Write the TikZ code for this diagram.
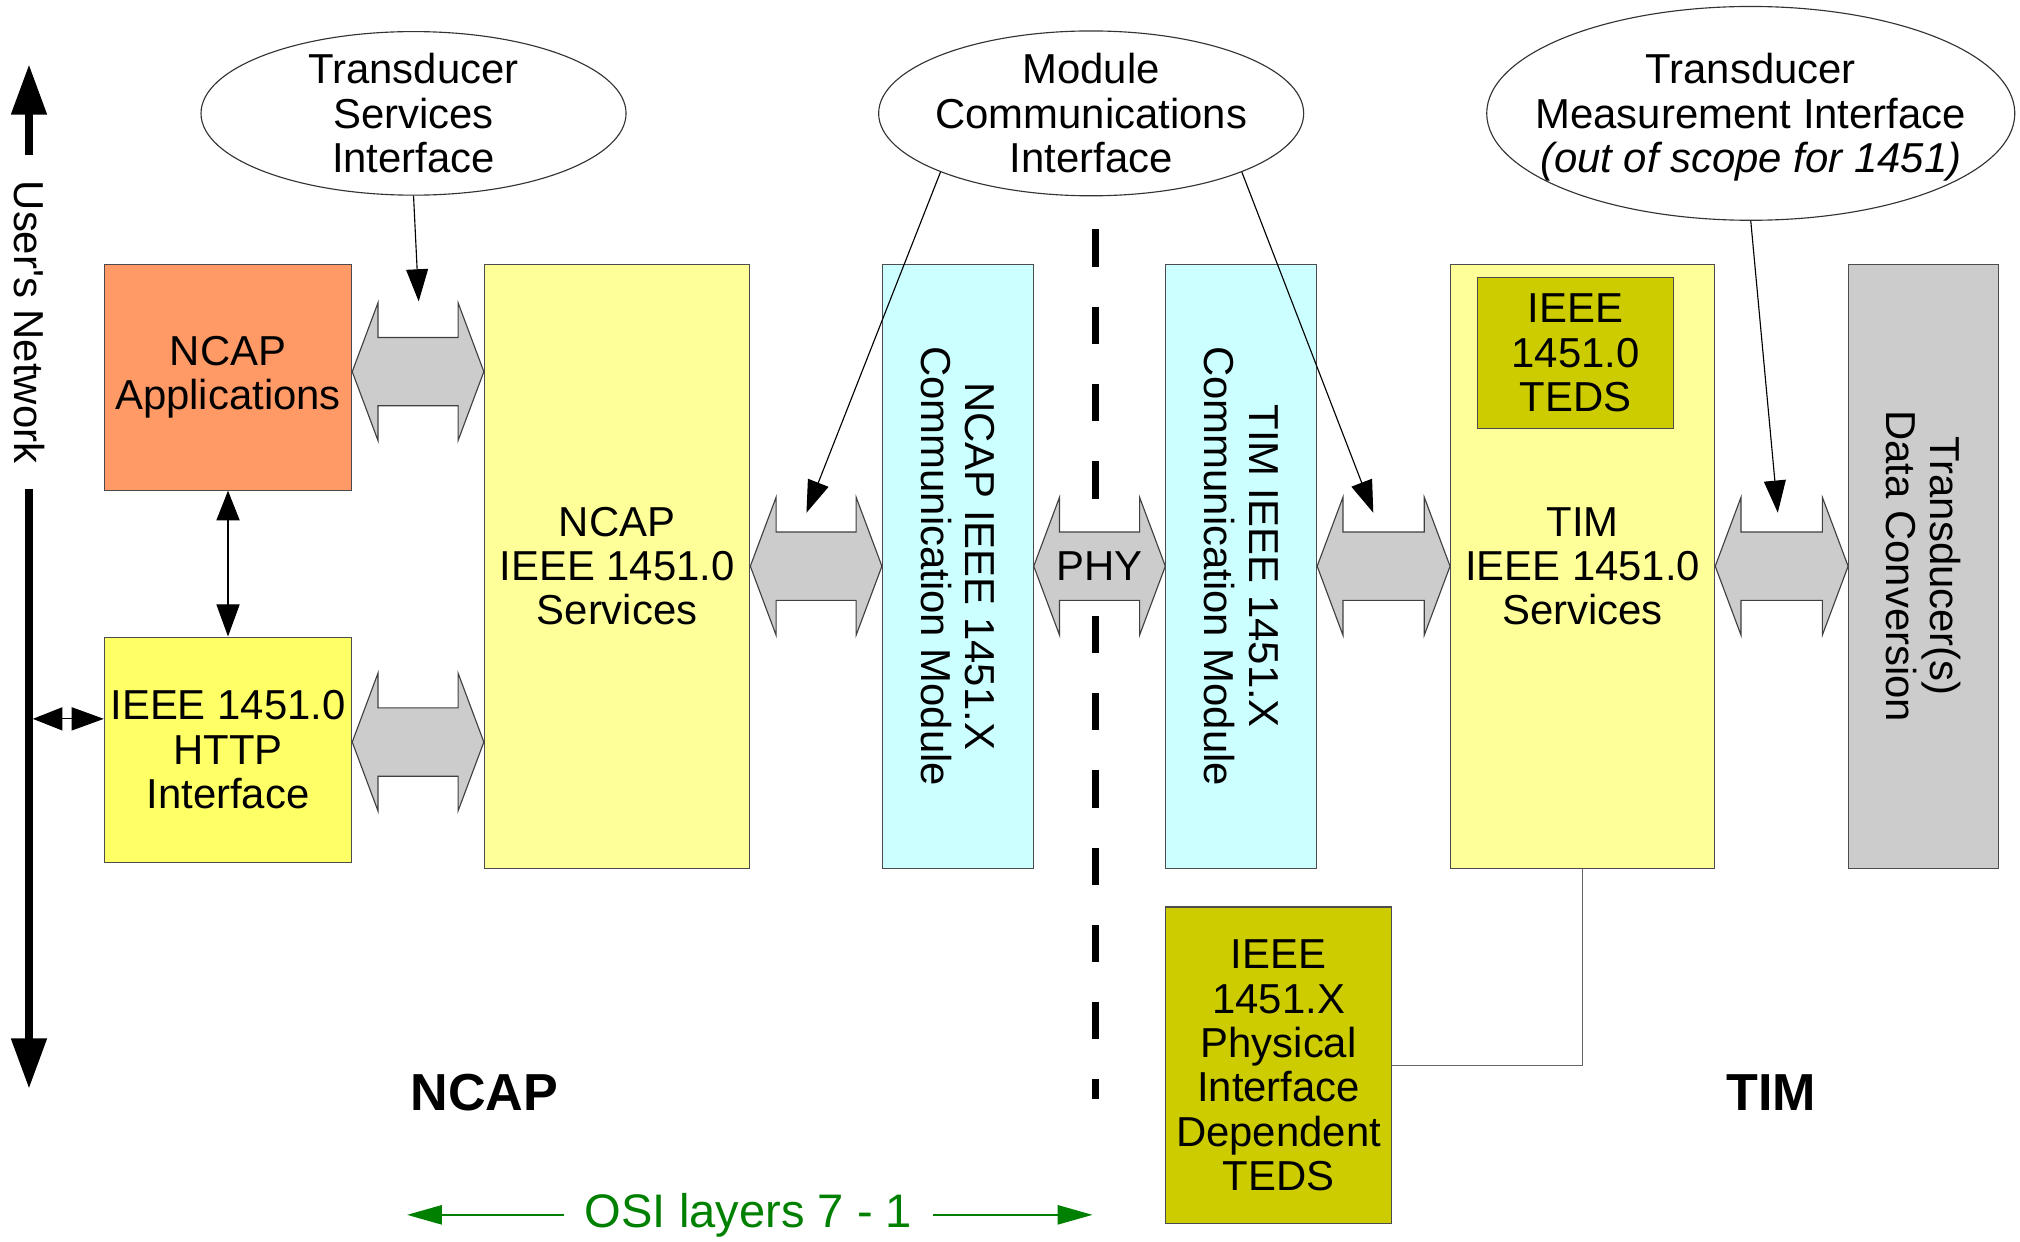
\documentclass[tikz,border=0pt]{standalone}
\usepackage{fontspec}
\setmainfont{Liberation Sans}
\usepackage{tikz}
\usetikzlibrary{arrows.meta}
\usetikzlibrary{shapes.geometric}
\usetikzlibrary{calc}
\definecolor{appsorange}{HTML}{FF9966}
\definecolor{httpyellow}{HTML}{FFFF66}
\definecolor{svcyellow}{HTML}{FFFF99}
\definecolor{comcyan}{HTML}{CCFFFF}
\definecolor{tedsolive}{HTML}{CCCC00}
\definecolor{xdcrgray}{HTML}{CCCCCC}
\definecolor{osigreen}{HTML}{008000}
\tikzset{t/.style={font=\fontsize{18.5}{19.6}\selectfont}}
\tikzset{big/.style={font=\fontsize{23}{26}\selectfont\bfseries}}
\tikzset{blk/.style={draw=black!70, line width=0.5pt, inner sep=0pt, align=center, t}}
\tikzset{bubble/.style={draw=black!80, line width=0.5pt, ellipse, fill=white}}
\tikzset{btxt/.style={t, align=center}}
\tikzset{vtxt/.style={rotate=-90, align=center, t}}
\tikzset{ptr/.style={-{Triangle[length=0.5cm,width=0.34cm]}, line width=0.5pt}}
\tikzset{dptr/.style={{Triangle[length=0.46cm,width=0.36cm]}-{Triangle[length=0.5cm,width=0.36cm]}, line width=0.5pt}}
\tikzset{fat/.style={draw=black!75, fill=xdcrgray, line width=0.5pt}}
\tikzset{wire/.style={draw=black!60, line width=0.5pt}}
\tikzset{cutline/.style={line width=3.1pt, dash pattern=on 0.58cm off 0.62cm}}
\tikzset{netline/.style={line width=3.4pt, {Triangle[length=0.78cm,width=0.53cm]}-{Triangle[length=0.78cm,width=0.53cm]}}}
\tikzset{osi/.style={font=\fontsize{20.8}{24}\selectfont, text=osigreen}}
\tikzset{osiarr/.style={draw=osigreen, line width=0.6pt, -{Triangle[length=0.54cm,width=0.3cm]}}}

% block arrow between two boxes, optional shift up
\newcommand{\fatarrow}[3][0cm]{%
  \path ([yshift=#1]#2.east) coordinate (fa-l) (fa-l -| #3.west) coordinate (fa-r);
  \draw[fat] (fa-l) -- ++(20,-53.5) -- ++(0,27) -- ($(fa-r)+(-20,-26.5)$) -- ++(0,-27) -- (fa-r)
    -- ++(-20,53.5) -- ++(0,-27) -- ($(fa-l)+(20,26.5)$) -- ++(0,27) -- cycle;}

\begin{document}
\begin{tikzpicture}[x=0.02cm, y=-0.02cm]
  \useasboundingbox (0,0) rectangle (1568,964);

  % interface bubbles
  \node[bubble, minimum width=6.6cm, minimum height=2.54cm,
    label={[btxt]center:{Transducer\\Services\\Interface}}] (tsi) at (321,88) {};
  \node[bubble, minimum width=6.6cm, minimum height=2.56cm,
    label={[btxt]center:{Module\\Communications\\Interface}}] (mci) at (847,88) {};
  \node[bubble, minimum width=8.2cm, minimum height=3.32cm,
    label={[btxt, yshift=-0.06cm]center:{Transducer\\Measurement Interface\\\textit{(out of scope for 1451)}}}] (tmi) at (1359,88) {};

  % NCAP side
  \node[blk, fill=appsorange, minimum width=3.84cm, minimum height=3.5cm] (apps) at (177,293) {NCAP\\Applications};
  \node[blk, fill=httpyellow, minimum width=3.84cm, minimum height=3.5cm] (http) at (177,582) {IEEE 1451.0\\HTTP\\Interface};
  \node[blk, fill=svcyellow, minimum width=4.12cm, minimum height=9.38cm] (ncapsvc) at (479,439.5) {NCAP\\IEEE 1451.0\\Services};
  \node[blk, fill=comcyan, minimum width=2.34cm, minimum height=9.38cm,
    label={[vtxt]center:{NCAP IEEE 1451.X\\Communication Module}}] (ncapcom) at (743.5,439.5) {};

  % TIM side
  \node[blk, fill=comcyan, minimum width=2.34cm, minimum height=9.38cm,
    label={[vtxt]center:{TIM IEEE 1451.X\\Communication Module}}] (timcom) at (963.5,439.5) {};
  \node[blk, fill=svcyellow, minimum width=4.1cm, minimum height=9.38cm] (timsvc) at (1228.5,439.5) {TIM\\IEEE 1451.0\\Services};
  \node[blk, fill=tedsolive, minimum width=3.04cm, minimum height=2.34cm] (teds) at (1223,274) {IEEE\\1451.0\\TEDS};
  \node[blk, fill=xdcrgray, minimum width=2.32cm, minimum height=9.38cm,
    label={[vtxt]center:{Transducer(s)\\Data Conversion}}] (xdcr) at (1493,439.5) {};
  \node[blk, fill=tedsolive, minimum width=3.5cm, minimum height=4.92cm] (phys) at (992.5,827)
    {IEEE\\1451.X\\Physical\\Interface\\Dependent\\TEDS};
  \draw[wire] (timsvc.south) |- (phys.east);

  % NCAP / TIM split
  \draw[cutline] (850,178) -- (850,853);

  \fatarrow[0.09cm]{apps}{ncapsvc}
  \fatarrow[0.12cm]{http}{ncapsvc}
  \fatarrow{ncapsvc}{ncapcom}
  \fatarrow{ncapcom}{timcom}
  \node[t] (phy) at ($(fa-l)!0.5!(fa-r)$) {PHY};
  \fatarrow{timcom}{timsvc}
  \fatarrow{timsvc}{xdcr}

  % pointers from the bubbles
  \coordinate (tsitip) at (325,234);
  \coordinate (mcitipl) at (626,398);
  \coordinate (mcitipr) at (1066,398);
  \coordinate (tmitip) at (1380,398);
  \draw[ptr] (tsi.south) -- (tsitip);
  \draw[ptr] (mci.south west) -- (mcitipl);
  \draw[ptr] (mci.south east) -- (mcitipr);
  \draw[ptr] (tmi.south) -- (tmitip);
  \draw[dptr] (apps.south) -- (http.north);

  % user's network
  \coordinate (nettop) at (22.5,50);
  \coordinate (netbot) at (22.5,845);
  \coordinate (netjoin) at (25.5,558);
  \draw[netline] (nettop) -- (netbot);
  \node[vtxt, fill=white, inner xsep=0.4cm, inner ysep=1pt] (net) at (22.5,250) {User\textquotesingle s Network};
  \draw[dptr] (netjoin) -- (netjoin -| http.west);

  % labels
  \node[big] (ncaplbl) at (376,848) {NCAP};
  \node[big] (timlbl) at (1375,848) {TIM};
  \node[osi, inner xsep=0.32cm] (osi) at (581,943) {OSI layers 7 - 1};
  \coordinate (osil) at (316,943);
  \coordinate (osir) at (848,943);
  \draw[osiarr] (osi) -- (osil);
  \draw[osiarr] (osi) -- (osir);
\end{tikzpicture}
\end{document}
